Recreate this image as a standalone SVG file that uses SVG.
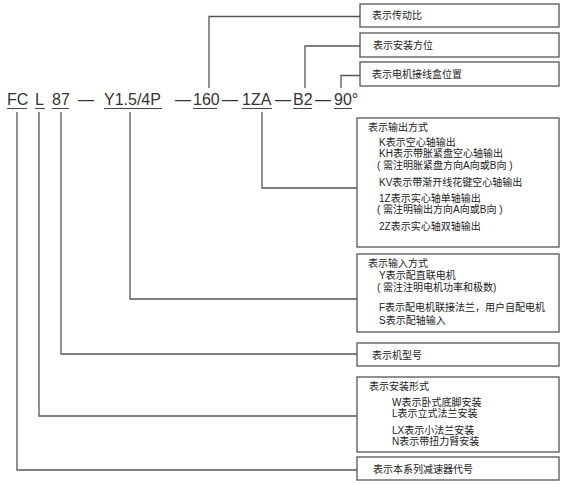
<svg xmlns="http://www.w3.org/2000/svg" width="569" height="485" viewBox="0 0 569 485">
<style>
.box{fill:#fff;stroke:#555;stroke-width:1.3}
.conn{fill:none;stroke:#555;stroke-width:1.3}
.ul{stroke:#444;stroke-width:1}
.code{font-family:"Liberation Sans","Noto Sans CJK SC",sans-serif;font-size:16px;fill:#333}
.t{font-family:"Liberation Sans","Noto Sans CJK SC",sans-serif;font-size:10px;fill:#222}
</style>
<rect width="569" height="485" fill="#fff"/>
<g id="code">
<text class="code" x="7" y="105">FC</text>
<text class="code" x="35" y="105">L</text>
<text class="code" x="52" y="105">87</text>
<text class="code" x="78" y="105">—</text>
<text class="code" x="104" y="105">Y1.5/4P</text>
<text class="code" x="175" y="105">—</text>
<text class="code" x="193" y="105">160</text>
<text class="code" x="222" y="105">—</text>
<text class="code" x="242" y="105">1ZA</text>
<text class="code" x="275" y="105">—</text>
<text class="code" x="293" y="105">B2</text>
<text class="code" x="315" y="105">—</text>
<text class="code" x="334" y="105">90°</text>
<line class="ul" x1="7" y1="108.5" x2="27" y2="108.5"/>
<line class="ul" x1="35" y1="108.5" x2="45" y2="108.5"/>
<line class="ul" x1="52" y1="108.5" x2="69" y2="108.5"/>
<line class="ul" x1="104" y1="108.5" x2="162" y2="108.5"/>
<line class="ul" x1="193" y1="108.5" x2="217" y2="108.5"/>
<line class="ul" x1="242" y1="108.5" x2="272" y2="108.5"/>
<line class="ul" x1="293" y1="108.5" x2="312" y2="108.5"/>
<line class="ul" x1="334" y1="108.5" x2="352" y2="108.5"/>
</g>
<g id="connectors">
<path class="conn" d="M17,112 V470 H357"/>
<path class="conn" d="M39,112 V416 H357"/>
<path class="conn" d="M61,112 V354 H357"/>
<path class="conn" d="M130,112 V299 H357"/>
<path class="conn" d="M262,112 V188 H357"/>
<path class="conn" d="M209,88 V16.5 H360"/>
<path class="conn" d="M305,88 V46 H360"/>
<path class="conn" d="M341,88 V75.5 H360"/>
</g>
<g id="ratio">
<rect class="box" x="360" y="4" width="199" height="23"/>
<text class="t" x="372" y="19">表示传动比</text>
</g>
<g id="mount-direction">
<rect class="box" x="360" y="33" width="199" height="24"/>
<text class="t" x="373" y="48.5">表示安装方位</text>
</g>
<g id="terminal-box">
<rect class="box" x="360" y="62" width="199" height="24"/>
<text class="t" x="372" y="77.5">表示电机接线盒位置</text>
</g>
<g id="output">
<rect class="box" x="357" y="118" width="202" height="129"/>
<text class="t" x="368" y="131">表示输出方式</text>
<text class="t" x="379" y="146">K表示空心轴输出</text>
<text class="t" x="379" y="157">KH表示带胀紧盘空心轴输出</text>
<text class="t" x="377" y="168.5">( 需注明胀紧盘方向A向或B向 )</text>
<text class="t" x="379" y="186">KV表示带渐开线花键空心轴输出</text>
<text class="t" x="379" y="201.5">1Z表示实心轴单轴输出</text>
<text class="t" x="377" y="212.5">( 需注明输出方向A向或B向 )</text>
<text class="t" x="379" y="230">2Z表示实心轴双轴输出</text>
</g>
<g id="input">
<rect class="box" x="357" y="254" width="202" height="78"/>
<text class="t" x="368" y="267">表示输入方式</text>
<text class="t" x="379" y="279">Y表示配直联电机</text>
<text class="t" x="377" y="290.5">( 需注注明电机功率和极数)</text>
<text class="t" x="379" y="310.5">F表示配电机联接法兰，用户自配电机</text>
<text class="t" x="379" y="324">S表示配轴输入</text>
</g>
<g id="model">
<rect class="box" x="357" y="343" width="202" height="23"/>
<text class="t" x="372" y="358.5">表示机型号</text>
</g>
<g id="mounting">
<rect class="box" x="357" y="377" width="202" height="75"/>
<text class="t" x="369" y="389.5">表示安装形式</text>
<text class="t" x="392" y="405.5">W表示卧式底脚安装</text>
<text class="t" x="392" y="417">L表示立式法兰安装</text>
<text class="t" x="392" y="433.5">LX表示小法兰安装</text>
<text class="t" x="392" y="445">N表示带扭力臂安装</text>
</g>
<g id="series">
<rect class="box" x="357" y="457" width="202" height="23"/>
<text class="t" x="373" y="472.5">表示本系列减速器代号</text>
</g>
</svg>
